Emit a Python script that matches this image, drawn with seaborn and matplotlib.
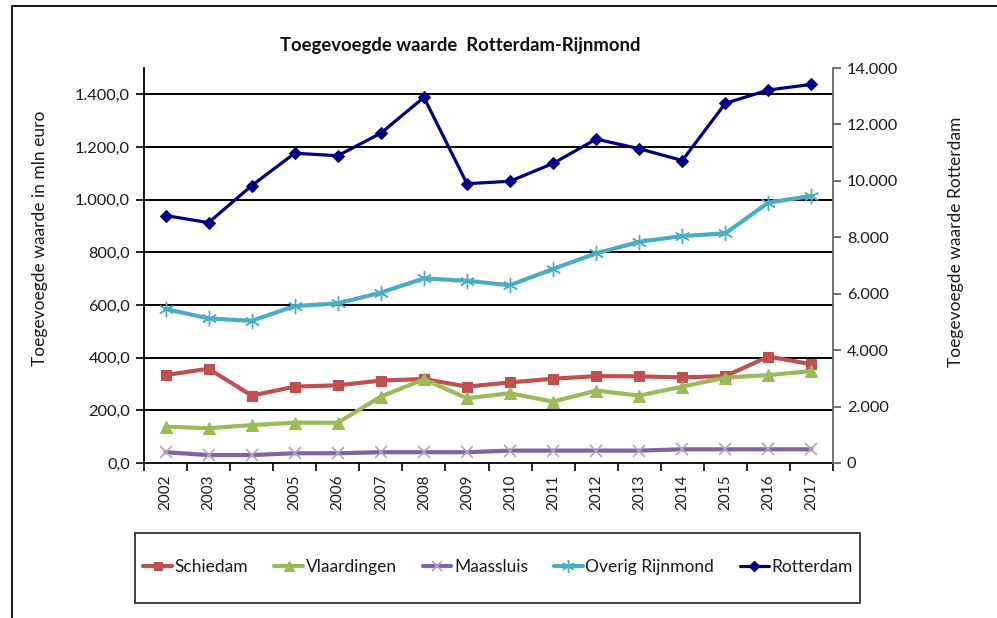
import matplotlib
matplotlib.use("Agg")
import matplotlib.pyplot as plt
import seaborn as sns
import numpy as np
import pandas as pd
from matplotlib.lines import Line2D
from matplotlib.patches import Rectangle
from matplotlib.ticker import FixedLocator, FuncFormatter

sns.set_theme(style="white")
plt.rcParams['font.family'] = ['Lato', 'DejaVu Sans']

years = ["2002", "2003", "2004", "2005", "2006", "2007", "2008", "2009",
         "2010", "2011", "2012", "2013", "2014", "2015", "2016", "2017"]
schiedam = [334, 358, 256, 290, 295, 313, 319, 290, 306, 320, 330, 329, 325, 330, 404, 375]
vlaardingen = [138, 132, 144, 153, 153, 252, 318, 246, 265, 233, 275, 256, 290, 324, 334, 349]
maassluis = [41, 30, 30, 37, 37, 41, 41, 41, 47, 47, 47, 47, 52, 52, 52, 52]
overig = [585, 549, 540, 596, 606, 647, 701, 692, 675, 737, 796, 840, 862, 872, 989, 1014]
rotterdam = [8770, 8520, 9830, 10980, 10890, 11690, 12960, 9900, 9985, 10620,
             11480, 11140, 10720, 12750, 13220, 13420]

left_ticks = [0, 200, 400, 600, 800, 1000, 1200, 1400]
right_ticks = [0, 2000, 4000, 6000, 8000, 10000, 12000, 14000]

title = "Toegevoegde waarde  Rotterdam-Rijnmond"
ylabel_left = "Toegevoegde waarde in mln euro"
ylabel_right = "Toegevoegde waarde Rotterdam"

W, H = 997, 618
fig = plt.figure(figsize=(W / 100, H / 100), dpi=100)
fig.patch.set_facecolor("white")

ax = fig.add_axes([144 / W, 1 - 463 / H, (833 - 144) / W, (463 - 68) / H])
ax2 = ax.twinx()

x = np.arange(len(years))

left_series = [
    ("Schiedam", schiedam, "#C0504D", "s", 7, dict()),
    ("Vlaardingen", vlaardingen, "#9BBB59", "^", 8.5, dict()),
    ("Maassluis", maassluis, "#8064A2", "x", 9, dict(markeredgecolor="#B3A2C7", markeredgewidth=1.2)),
    ("Overig Rijnmond", overig, "#4BACC6", (6, 2, 0), 11, dict(markeredgecolor="#4BACC6", markeredgewidth=1.0)),
]

handles = []
for name, vals, col, mk, ms, extra in left_series:
    sns.lineplot(x=x, y=vals, ax=ax, color=col, lw=3.0, marker=mk, markersize=ms,
                 markeredgecolor=extra.get("markeredgecolor", col),
                 markeredgewidth=extra.get("markeredgewidth", 0.8),
                 markerfacecolor=col, label=name, legend=False, zorder=3)
    handles.append(Line2D([], [], color=col, lw=3.0, marker=mk, markersize=ms * 0.85,
                          markeredgecolor=extra.get("markeredgecolor", col),
                          markeredgewidth=extra.get("markeredgewidth", 0.8),
                          markerfacecolor=col))

sns.lineplot(x=x, y=rotterdam, ax=ax2, color="#000080", lw=2.3, marker="D", markersize=6,
             markeredgecolor="#000080", markerfacecolor="#000080", legend=False, zorder=3)
handles.append(Line2D([], [], color="#000080", lw=2.3, marker="D", markersize=5,
                      markerfacecolor="#000080", markeredgecolor="#000080"))
labels = ["Schiedam", "Vlaardingen", "Maassluis", "Overig Rijnmond", "Rotterdam"]

# axes limits
ax.set_xlim(-0.5, len(years) - 0.5)
ax.set_ylim(0, 1500)
ax2.set_ylim(0, 14000)

# grid
ax.yaxis.set_major_locator(FixedLocator(left_ticks))
for t in left_ticks[1:]:
    ax.axhline(t, color="black", lw=1.4, zorder=1)

def nl_left(v, pos):
    s = f"{v:,.1f}"
    return s.replace(",", "X").replace(".", ",").replace("X", ".")

def nl_right(v, pos):
    s = f"{v:,.0f}"
    return s.replace(",", ".")

ax.yaxis.set_major_formatter(FuncFormatter(nl_left))
ax2.yaxis.set_major_locator(FixedLocator(right_ticks))
ax2.yaxis.set_major_formatter(FuncFormatter(nl_right))

# x ticks
ax.set_xticks(x)
ax.set_xticklabels(years, rotation=90)
ax.set_xticks(np.arange(-0.5, len(years), 1.0), minor=True)
ax.tick_params(axis="x", which="major", length=0, pad=8, labelsize=11, colors="#1a1a1a")
ax.tick_params(axis="x", which="minor", length=6, width=1.2, color="black", direction="out", bottom=True)
ax.tick_params(axis="y", which="major", length=6, width=1.2, color="black", direction="out",
               left=True, pad=4, labelsize=11.8, labelcolor="#1a1a1a")
ax2.tick_params(axis="y", which="major", length=6, width=1.2, color="#555555", direction="out",
                right=True, pad=4, labelsize=11.8, labelcolor="#1a1a1a")

for a in (ax, ax2):
    a.spines["top"].set_visible(False)
    a.grid(False)
ax.spines["left"].set_color("black")
ax.spines["left"].set_linewidth(1.3)
ax.spines["bottom"].set_color("black")
ax.spines["bottom"].set_linewidth(1.3)
ax.spines["right"].set_visible(False)
ax2.spines["left"].set_visible(False)
ax2.spines["bottom"].set_visible(False)
ax2.spines["right"].set_color("#666666")
ax2.spines["right"].set_linewidth(1.3)

ax.set_ylabel("")
ax2.set_ylabel("")
fig.text(40 / W, 1 - 238 / H, ylabel_left, rotation=90, ha="center", va="center",
         fontsize=12.5, color="#1a1a1a")
fig.text(956 / W, 1 - 242 / H, ylabel_right, rotation=90, ha="center", va="center",
         fontsize=12.5, color="#1a1a1a")

fig.text(460 / W, 1 - 46 / H, title, ha="center", va="center", fontsize=13.3,
         fontweight="bold", color="#111111")

# figure border (left and top)
fig.add_artist(Line2D([12 / W, 12 / W], [0, 1 - 6 / H], color="black", lw=1.3))
fig.add_artist(Line2D([12 / W, 1], [1 - 6 / H, 1 - 6 / H], color="black", lw=1.3))

# legend box
fig.add_artist(Rectangle((135 / W, 1 - 603 / H), (860 - 135) / W, (603 - 533) / H,
                         transform=fig.transFigure, fill=False, edgecolor="#333333", lw=1.3))
fig.legend(handles, labels, loc="center", bbox_to_anchor=(498 / W, 1 - 567 / H),
           ncol=5, frameon=False, fontsize=12.5, handlelength=1.65, handletextpad=0.15,
           columnspacing=1.5, labelcolor="#1a1a1a")

fig.savefig("out.png", dpi=100)
